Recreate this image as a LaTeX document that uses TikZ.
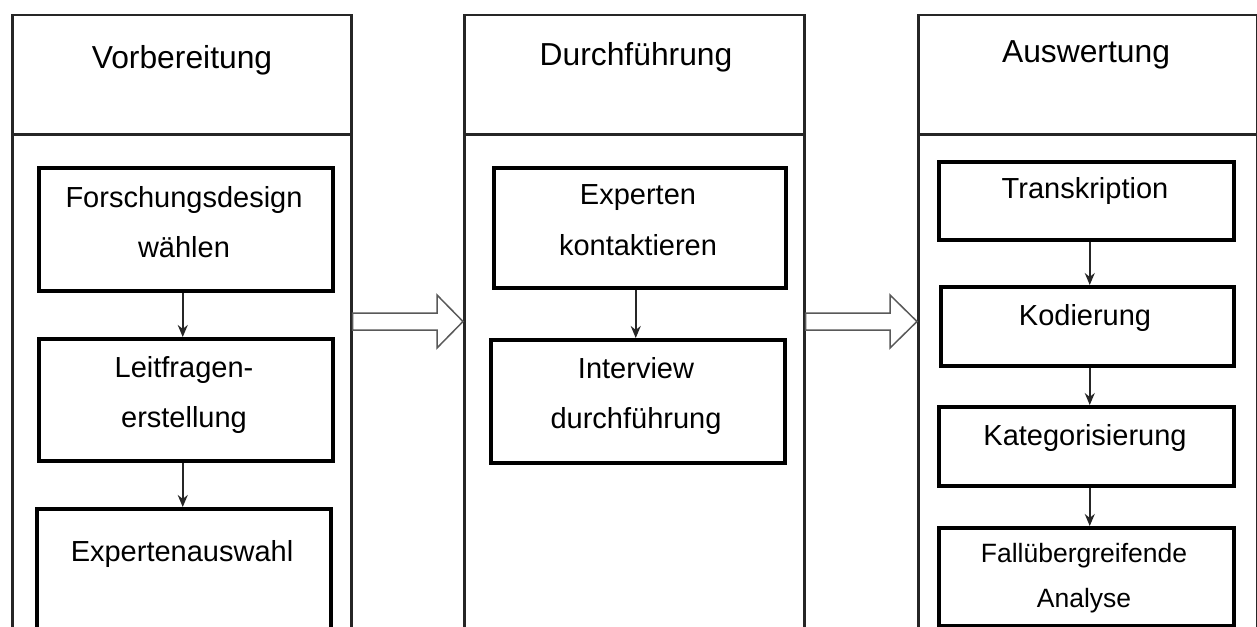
\documentclass[tikz,border=0pt]{standalone}
\usepackage{fontspec}
\setmainfont{Liberation Sans}
\usetikzlibrary{arrows.meta}

\tikzset{
  column/.style={draw=black!85, line width=2.5pt, fill=white, inner sep=0pt, anchor=north west},
  stepbox/.style={draw=black, line width=3.5pt, fill=white, inner sep=0pt, anchor=north west},
  flow/.style={draw=black!85, line width=1.5pt, -{Stealth[length=12pt,width=10pt]}},
  blockarr/.style={draw=black!65, line width=1.5pt, fill=white, line join=miter},
  headtext/.style={anchor=base, inner sep=0pt, font=\fontsize{31.8}{38}\selectfont},
  boxtext/.style={anchor=base, inner sep=0pt, font=\fontsize{29}{35}\selectfont},
  smalltext/.style={anchor=base, inner sep=0pt, font=\fontsize{26.5}{32}\selectfont},
}

\begin{document}
\begin{tikzpicture}[x=1pt, y=-1pt]
  \clip (0,0) rectangle (1257,626);
  \fill[white] (0,0) rectangle (1257,626);

  % phase columns: header and body
  \node[column, minimum width=339, minimum height=119] (h1) at (11,14) {};
  \node[column, minimum width=339, minimum height=600] (c1) at (11,133) {};
  \node[column, minimum width=340, minimum height=119] (h2) at (463,14) {};
  \node[column, minimum width=340, minimum height=600] (c2) at (463,133) {};
  \node[column, minimum width=339, minimum height=119] (h3) at (917,14) {};
  \node[column, minimum width=339, minimum height=600] (c3) at (917,133) {};

  \node[headtext] (t1) at (182,69) {Vorbereitung};
  \node[headtext] (t2) at (636,65) {Durchführung};
  \node[headtext] (t3) at (1086,63) {Auswertung};

  % hollow arrows between the phases
  \draw[blockarr] (c1.north east |- 0,313) -- (437,313) -- (437,295)
    -- (c2.north west |- 0,321.5) -- (437,348) -- (437,330)
    -- (c1.north east |- 0,330) -- cycle;
  \draw[blockarr] (c2.north east |- 0,313) -- (890,313) -- (890,295)
    -- (c3.north west |- 0,321.5) -- (890,348) -- (890,330)
    -- (c2.north east |- 0,330) -- cycle;

  % Vorbereitung steps
  \node[stepbox, minimum width=294, minimum height=123] (b11) at (37,166) {};
  \node[stepbox, minimum width=294, minimum height=122] (b12) at (37,337) {};
  \node[stepbox, minimum width=294, minimum height=200] (b13) at (35,507) {};
  \node[boxtext] (t11a) at (184,207) {Forschungsdesign};
  \node[boxtext] (t11b) at (184,257) {wählen};
  \node[boxtext] (t12a) at (184,377) {Leitfragen-};
  \node[boxtext] (t12b) at (184,427) {erstellung};
  \node[boxtext] (t13) at (182,561) {Expertenauswahl};
  \draw[flow] ([xshift=-3]b11.south) -- ([xshift=-3]b12.north);
  \draw[flow] ([xshift=-3]b12.south) -- ([xshift=-1]b13.north);

  % Durchführung steps
  \node[stepbox, minimum width=292, minimum height=120] (b21) at (492,166) {};
  \node[stepbox, minimum width=294, minimum height=123] (b22) at (489,338) {};
  \node[boxtext] (t21a) at (638,204) {Experten};
  \node[boxtext] (t21b) at (638,255) {kontaktieren};
  \node[boxtext] (t22a) at (636,378) {Interview};
  \node[boxtext] (t22b) at (636,428) {durchführung};
  \draw[flow] ([xshift=-4]b21.south) -- ([xshift=-2]b22.north);

  % Auswertung steps
  \node[stepbox, minimum width=295, minimum height=78] (b31) at (937,160) {};
  \node[stepbox, minimum width=293, minimum height=79] (b32) at (939,285) {};
  \node[stepbox, minimum width=295, minimum height=79] (b33) at (937,405) {};
  \node[stepbox, minimum width=295, minimum height=98] (b34) at (937,526) {};
  \node[boxtext] (t31) at (1085,198) {Transkription};
  \node[boxtext] (t32) at (1085,325) {Kodierung};
  \node[boxtext] (t33) at (1085,445) {Kategorisierung};
  \node[smalltext] (t34a) at (1084,562) {Fallübergreifende};
  \node[smalltext] (t34b) at (1084,607) {Analyse};
  \draw[flow] ([xshift=3.5]b31.south) -- ([xshift=2.5]b32.north);
  \draw[flow] ([xshift=2.5]b32.south) -- ([xshift=3.5]b33.north);
  \draw[flow] ([xshift=3.5]b33.south) -- ([xshift=3.5]b34.north);
\end{tikzpicture}
\end{document}
